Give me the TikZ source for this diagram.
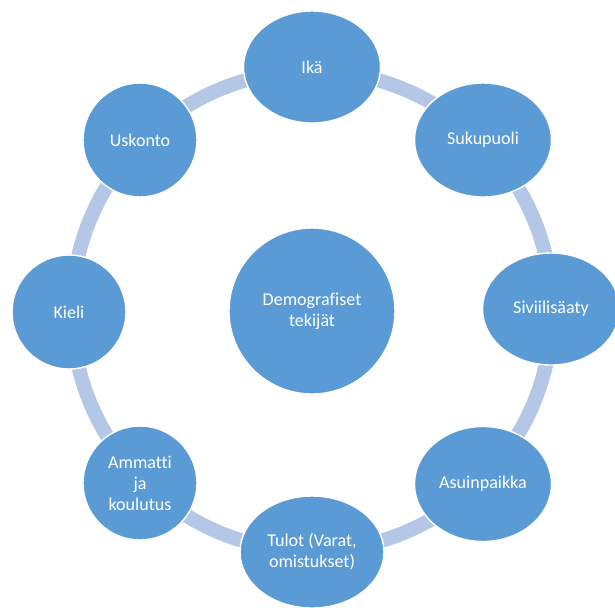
\documentclass[tikz,border=0pt]{standalone}
\usepackage{fontspec}
\setmainfont[Ligatures=NoCommon]{Carlito}
\usetikzlibrary{shapes.geometric}
\definecolor{bubble}{HTML}{5B9BD5}
\definecolor{ring}{HTML}{B4C7E7}
\begin{document}
\begin{tikzpicture}[x=0.03cm,y=-0.03cm,
  bubbletext/.style={font=\fontsize{15.4pt}{17.8pt}\selectfont, text=white, align=center},
  item/.style={ellipse, fill=bubble, draw=white, line width=1.2pt, inner sep=0pt, bubbletext},
  wide/.style={item, minimum width=4.11cm, minimum height=3.36cm},
  round/.style={item, minimum width=3.42cm, minimum height=3.42cm},
  hub/.style={item, minimum width=4.98cm, minimum height=4.98cm},
  cycle ring/.style={draw=ring, line width=0.43cm}]
\useasboundingbox (0,0) rectangle (615,607);
% the ring that links the outer bubbles
\coordinate (mid) at (312,311);
\draw[cycle ring] (mid) circle [radius=7.2cm];
% centre
\node[hub] (demo) at (mid) {Demografiset\\tekijät};
% outer bubbles, clockwise from the top
\node[wide]  (ika)    at (312,67)  {Ikä};
\node[wide, minimum height=3.42cm] (suku) at (483,140) {Sukupuoli};
\node[wide]  (sivi)   at (551,309) {Siviilisäaty};
\node[wide, minimum height=3.45cm] (asuin) at (483,484) {Asuinpaikka};
\node[wide, minimum width=4.32cm] (tulot) at (312,552) {Tulot (Varat,\\omistukset)};
\node[round] (ammatti) at (140,483) {Ammatti\\ja\\koulutus};
\node[round] (kieli)  at (69,312)  {Kieli};
\node[round] (usko)   at (140,140) {Uskonto};
\end{tikzpicture}
\end{document}
